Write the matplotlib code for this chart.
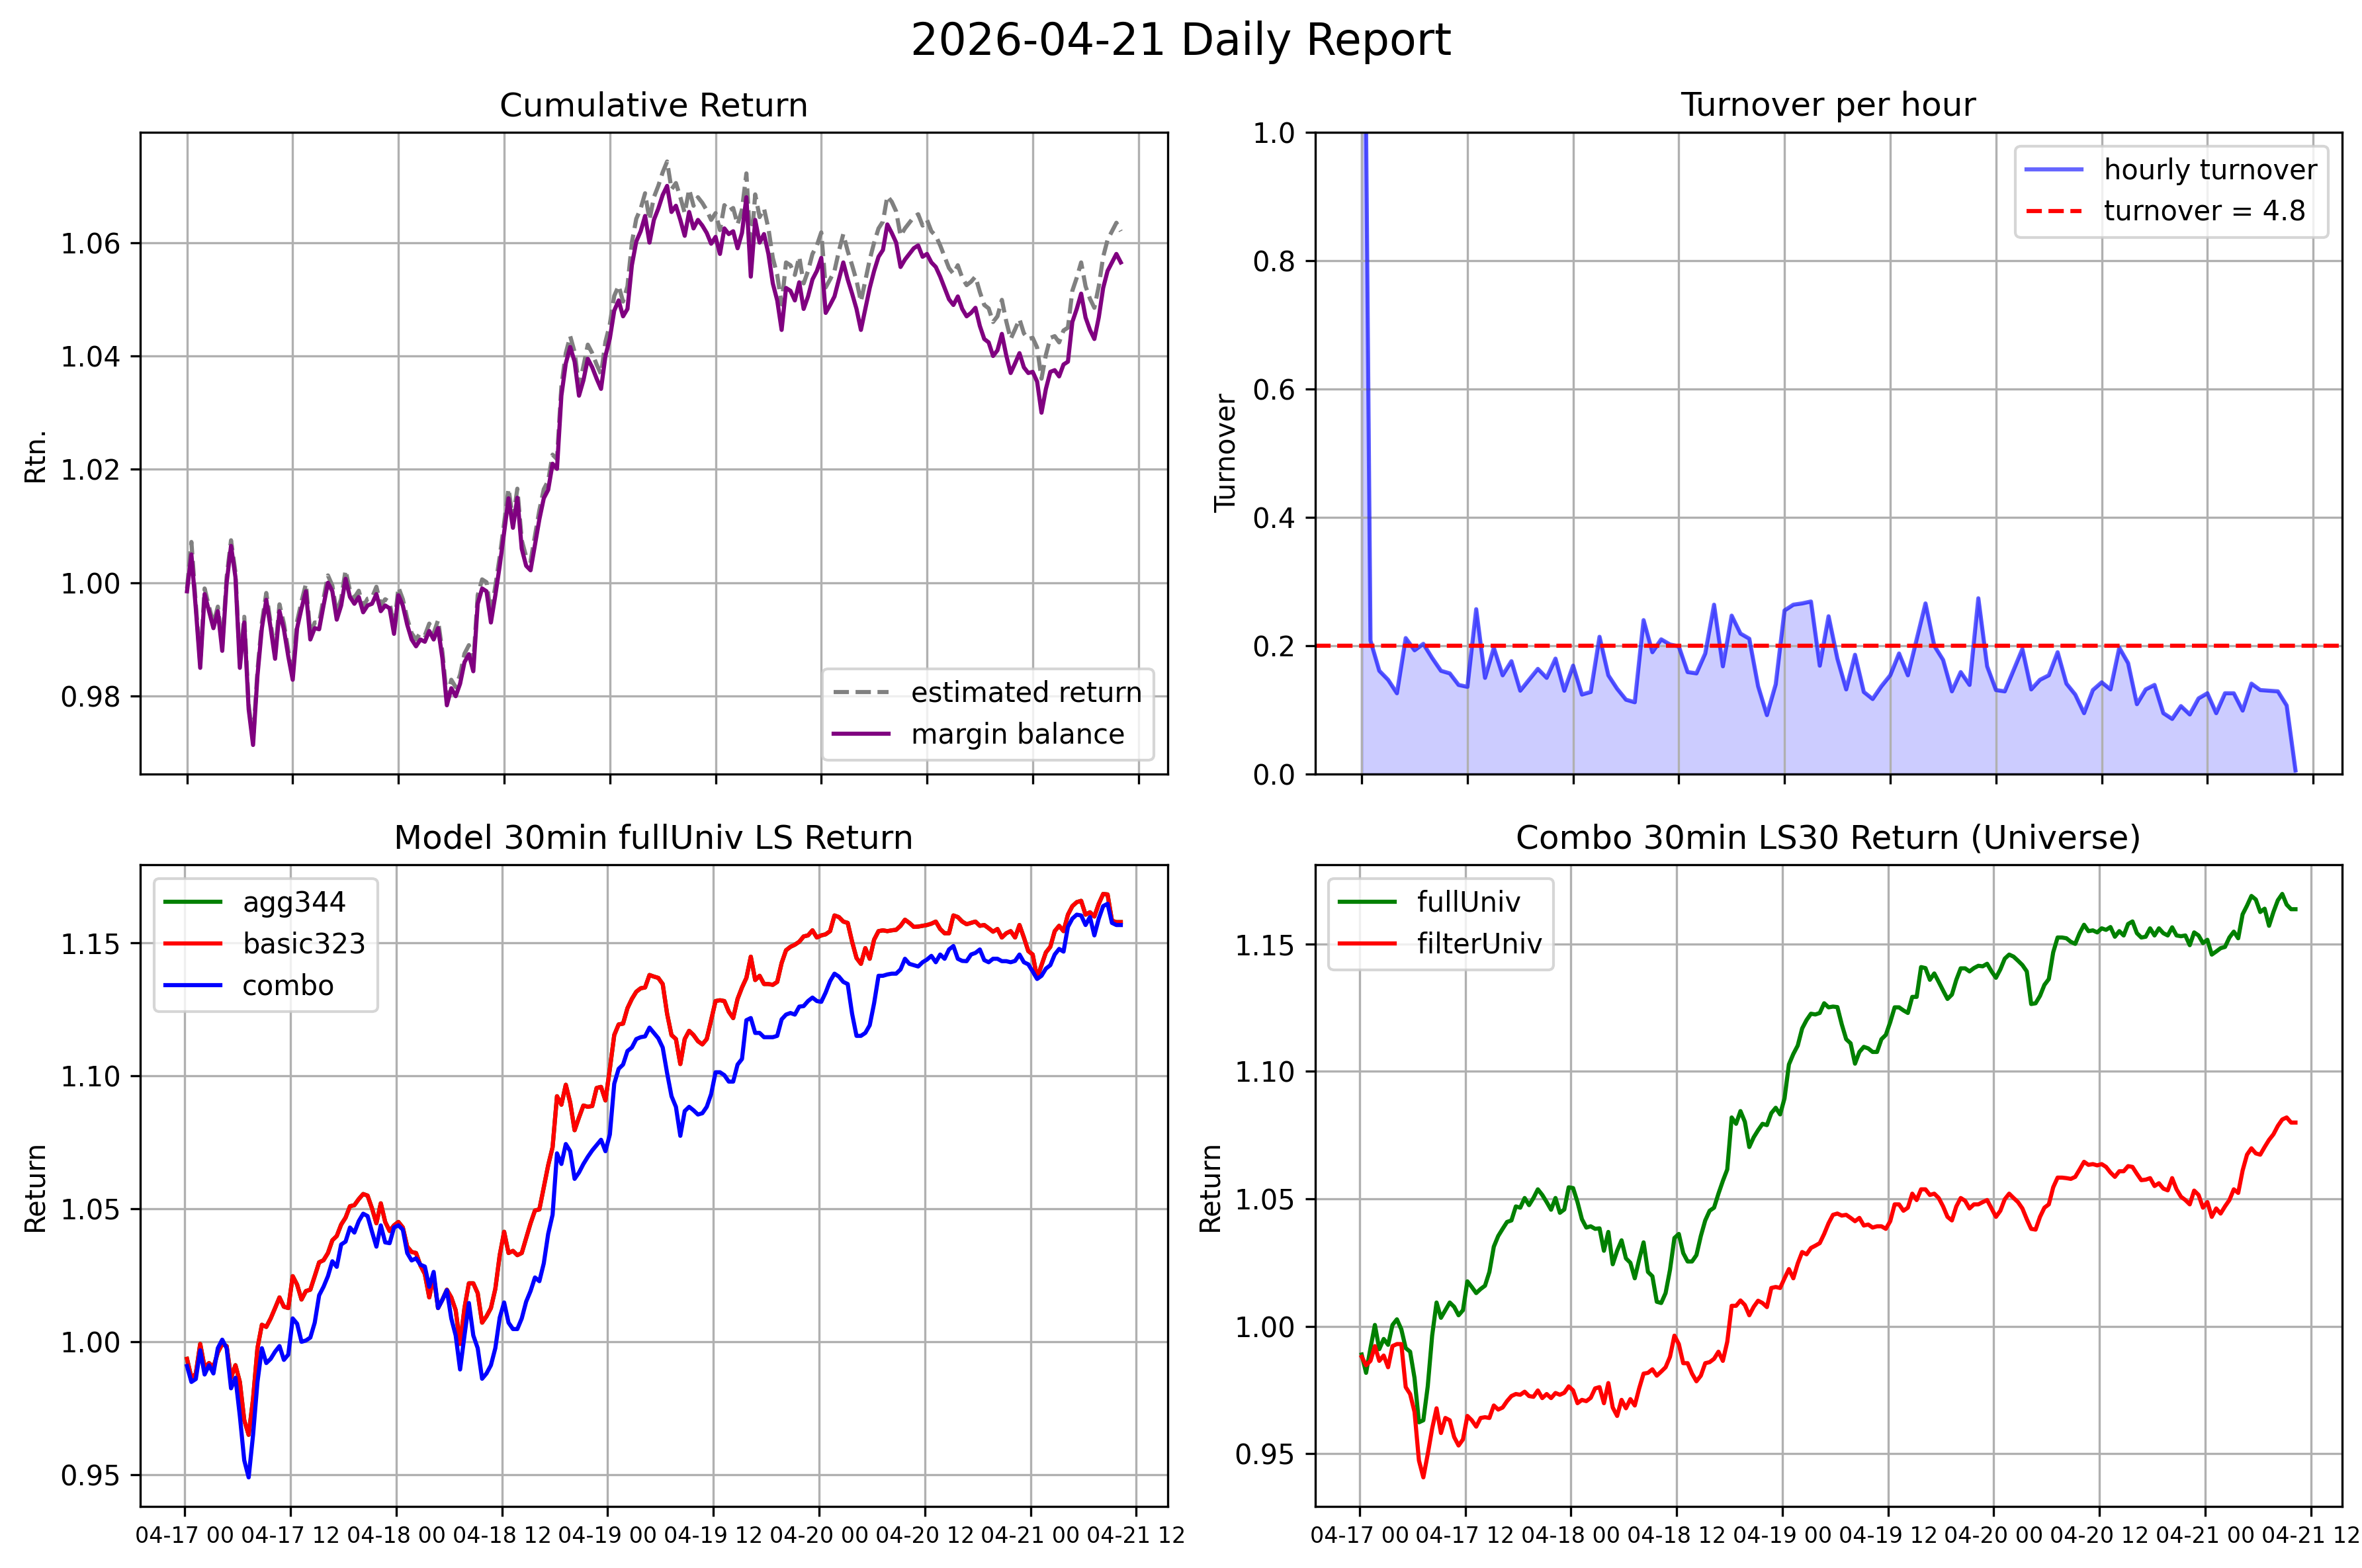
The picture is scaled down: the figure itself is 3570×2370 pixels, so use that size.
import pandas as pd
import matplotlib
matplotlib.use("Agg")
import matplotlib.pyplot as plt
import matplotlib.dates as mdates

report_date = "2026-04-21"

# cumulative return, 30 min samples from 04-17 00:00
margin_balance = [
    0.9985, 1.0050, 0.9955, 0.9850, 0.9980, 0.9950, 0.9920, 0.9950, 0.9880, 1.0000,
    1.0065, 1.0010, 0.9850, 0.9930, 0.9777, 0.9714, 0.9836, 0.9920, 0.9970, 0.9920,
    0.9866, 0.9950, 0.9918, 0.9870, 0.9829, 0.9920, 0.9955, 0.9985, 0.9900, 0.9920,
    0.9918, 0.9960, 1.0000, 0.9985, 0.9935, 0.9960, 1.0007, 0.9975, 0.9963, 0.9975,
    0.9948, 0.9960, 0.9963, 0.9980, 0.9950, 0.9960, 0.9955, 0.9910, 0.9978, 0.9960,
    0.9926, 0.9900, 0.9888, 0.9900, 0.9896, 0.9915, 0.9900, 0.9920, 0.9866, 0.9784,
    0.9814, 0.9800, 0.9822, 0.9860, 0.9874, 0.9844, 0.9963, 0.9990, 0.9985, 0.9930,
    0.9978, 1.0030, 1.0089, 1.0149, 1.0097, 1.0150, 1.0060, 1.0030, 1.0022, 1.0067,
    1.0112, 1.0149, 1.0164, 1.0210, 1.0201, 1.0330, 1.0387, 1.0416, 1.0390, 1.0330,
    1.0357, 1.0395, 1.0380, 1.0360, 1.0342, 1.0400, 1.0431, 1.0480, 1.0498, 1.0470,
    1.0483, 1.0560, 1.0602, 1.0620, 1.0647, 1.0600, 1.0640, 1.0660, 1.0684, 1.0700,
    1.0654, 1.0665, 1.0640, 1.0612, 1.0654, 1.0625, 1.0640, 1.0630, 1.0617, 1.0598,
    1.0610, 1.0580, 1.0625, 1.0615, 1.0620, 1.0590, 1.0617, 1.0680, 1.0540, 1.0640,
    1.0600, 1.0615, 1.0580, 1.0528, 1.0498, 1.0446, 1.0520, 1.0515, 1.0498, 1.0530,
    1.0483, 1.0505, 1.0535, 1.0550, 1.0573, 1.0476, 1.0490, 1.0505, 1.0535, 1.0565,
    1.0535, 1.0510, 1.0483, 1.0446, 1.0483, 1.0520, 1.0550, 1.0575, 1.0587, 1.0632,
    1.0617, 1.0600, 1.0557, 1.0570, 1.0580, 1.0590, 1.0595, 1.0575, 1.0580, 1.0565,
    1.0557, 1.0540, 1.0520, 1.0500, 1.0490, 1.0505, 1.0483, 1.0470, 1.0476, 1.0485,
    1.0453, 1.0430, 1.0424, 1.0400, 1.0410, 1.0439, 1.0401, 1.0370, 1.0387, 1.0405,
    1.0380, 1.0370, 1.0372, 1.0355, 1.0300, 1.0342, 1.0372, 1.0375, 1.0364, 1.0385,
    1.0390, 1.0460, 1.0483, 1.0510, 1.0468, 1.0446, 1.0430, 1.0468, 1.0520, 1.0550,
    1.0565, 1.0580, 1.0565,
]
estimated_return = [
    0.9990, 1.0072, 0.9962, 0.9858, 0.9990, 0.9958, 0.9928, 0.9958, 0.9888, 1.0010,
    1.0075, 1.0018, 0.9858, 0.9940, 0.9785, 0.9722, 0.9845, 0.9930, 0.9982, 0.9928,
    0.9876, 0.9962, 0.9928, 0.9880, 0.9840, 0.9932, 0.9967, 0.9998, 0.9910, 0.9930,
    0.9930, 0.9972, 1.0013, 0.9995, 0.9946, 0.9972, 1.0022, 0.9986, 0.9974, 0.9986,
    0.9958, 0.9972, 0.9974, 0.9993, 0.9961, 0.9971, 0.9966, 0.9920, 0.9992, 0.9971,
    0.9937, 0.9911, 0.9900, 0.9912, 0.9907, 0.9928, 0.9911, 0.9934, 0.9877, 0.9796,
    0.9829, 0.9816, 0.9838, 0.9875, 0.9890, 0.9858, 0.9978, 1.0006, 1.0001, 0.9945,
    0.9994, 1.0046, 1.0105, 1.0166, 1.0112, 1.0166, 1.0075, 1.0046, 1.0038, 1.0083,
    1.0128, 1.0165, 1.0180, 1.0226, 1.0218, 1.0347, 1.0405, 1.0435, 1.0407, 1.0347,
    1.0382, 1.0420, 1.0405, 1.0385, 1.0368, 1.0425, 1.0456, 1.0506, 1.0524, 1.0496,
    1.0523, 1.0600, 1.0642, 1.0660, 1.0687, 1.0640, 1.0680, 1.0700, 1.0724, 1.0743,
    1.0694, 1.0705, 1.0680, 1.0652, 1.0694, 1.0665, 1.0680, 1.0670, 1.0657, 1.0640,
    1.0652, 1.0622, 1.0666, 1.0656, 1.0661, 1.0632, 1.0658, 1.0722, 1.0585, 1.0685,
    1.0645, 1.0660, 1.0625, 1.0573, 1.0543, 1.0491, 1.0565, 1.0560, 1.0543, 1.0575,
    1.0528, 1.0550, 1.0580, 1.0595, 1.0618, 1.0521, 1.0535, 1.0550, 1.0585, 1.0615,
    1.0585, 1.0560, 1.0533, 1.0496, 1.0533, 1.0570, 1.0600, 1.0625, 1.0637, 1.0682,
    1.0672, 1.0655, 1.0612, 1.0625, 1.0635, 1.0645, 1.0650, 1.0630, 1.0640, 1.0620,
    1.0612, 1.0595, 1.0575, 1.0555, 1.0545, 1.0560, 1.0538, 1.0525, 1.0531, 1.0540,
    1.0513, 1.0490, 1.0484, 1.0460, 1.0470, 1.0499, 1.0461, 1.0430, 1.0447, 1.0465,
    1.0440, 1.0430, 1.0432, 1.0415, 1.0360, 1.0402, 1.0432, 1.0435, 1.0424, 1.0445,
    1.0450, 1.0515, 1.0538, 1.0565, 1.0523, 1.0501, 1.0485, 1.0523, 1.0575, 1.0605,
    1.0620, 1.0635, 1.0620,
]

# hourly turnover from 04-17 00:00
hourly_turnover = [
    1.80, 0.208, 0.161, 0.147, 0.126, 0.212, 0.193, 0.203, 0.181, 0.161,
    0.157, 0.139, 0.136, 0.257, 0.150, 0.197, 0.154, 0.176, 0.130, 0.147,
    0.164, 0.150, 0.180, 0.130, 0.169, 0.124, 0.128, 0.214, 0.154, 0.133,
    0.116, 0.112, 0.240, 0.190, 0.210, 0.202, 0.199, 0.159, 0.157, 0.188,
    0.264, 0.168, 0.247, 0.219, 0.211, 0.137, 0.092, 0.140, 0.255, 0.264,
    0.266, 0.269, 0.169, 0.246, 0.180, 0.132, 0.186, 0.128, 0.117, 0.137,
    0.154, 0.188, 0.154, 0.210, 0.266, 0.200, 0.178, 0.129, 0.159, 0.139,
    0.274, 0.168, 0.131, 0.129, 0.162, 0.195, 0.132, 0.147, 0.154, 0.190,
    0.141, 0.124, 0.095, 0.131, 0.143, 0.132, 0.197, 0.173, 0.109, 0.132,
    0.139, 0.095, 0.086, 0.106, 0.093, 0.118, 0.126, 0.095, 0.126, 0.126,
    0.099, 0.141, 0.131, 0.130, 0.129, 0.107, 0.006,
]
daily_turnover = 4.8

# model LS returns, 30 min
basic323 = [
    0.9936, 0.9865, 0.9880, 0.9992, 0.9904, 0.9920, 0.9904, 0.9960, 0.9992, 0.9984,
    0.9865, 0.9912, 0.9849, 0.9705, 0.9650, 0.9785, 0.9976, 1.0064, 1.0056, 1.0088,
    1.0127, 1.0167, 1.0132, 1.0127, 1.0247, 1.0215, 1.0159, 1.0191, 1.0196, 1.0247,
    1.0299, 1.0307, 1.0334, 1.0382, 1.0398, 1.0441, 1.0467, 1.0510, 1.0514, 1.0537,
    1.0556, 1.0550, 1.0502, 1.0446, 1.0521, 1.0451, 1.0417, 1.0438, 1.0451, 1.0430,
    1.0358, 1.0338, 1.0334, 1.0287, 1.0255, 1.0167, 1.0247, 1.0127, 1.0159, 1.0196,
    1.0167, 1.0119, 0.9992, 1.0127, 1.0220, 1.0220, 1.0183, 1.0072, 1.0096, 1.0127,
    1.0199, 1.0326, 1.0414, 1.0334, 1.0342, 1.0326, 1.0334, 1.0390, 1.0446, 1.0494,
    1.0498, 1.0581, 1.0664, 1.0732, 1.0924, 1.0892, 1.0967, 1.0900, 1.0796, 1.0844,
    1.0889, 1.0884, 1.0887, 1.0955, 1.0959, 1.0908, 1.1027, 1.1154, 1.1194, 1.1197,
    1.1255, 1.1290, 1.1317, 1.1330, 1.1333, 1.1380, 1.1374, 1.1369, 1.1346, 1.1234,
    1.1154, 1.1139, 1.1045, 1.1139, 1.1170, 1.1154, 1.1131, 1.1119, 1.1139, 1.1210,
    1.1282, 1.1285, 1.1282, 1.1242, 1.1218, 1.1290, 1.1333, 1.1369, 1.1449, 1.1361,
    1.1377, 1.1346, 1.1346, 1.1343, 1.1354, 1.1425, 1.1473, 1.1486, 1.1494, 1.1505,
    1.1525, 1.1529, 1.1548, 1.1521, 1.1529, 1.1533, 1.1545, 1.1604, 1.1598, 1.1581,
    1.1576, 1.1505, 1.1444, 1.1422, 1.1481, 1.1441, 1.1513, 1.1545, 1.1548, 1.1545,
    1.1548, 1.1550, 1.1565, 1.1588, 1.1576, 1.1561, 1.1562, 1.1565, 1.1568, 1.1573,
    1.1581, 1.1553, 1.1537, 1.1537, 1.1604, 1.1598, 1.1581, 1.1571, 1.1576, 1.1581,
    1.1565, 1.1568, 1.1556, 1.1543, 1.1553, 1.1521, 1.1537, 1.1545, 1.1521, 1.1568,
    1.1521, 1.1470, 1.1457, 1.1369, 1.1417, 1.1465, 1.1486, 1.1545, 1.1565, 1.1545,
    1.1607, 1.1639, 1.1654, 1.1659, 1.1607, 1.1616, 1.1600, 1.1648, 1.1685, 1.1683,
    1.1584, 1.1579, 1.1579,
]
# agg344 sits exactly under basic323 in the report
agg344 = list(basic323)
combo = [
    0.9909, 0.9849, 0.9860, 0.9968, 0.9877, 0.9912, 0.9881, 0.9976, 1.0008, 0.9976,
    0.9825, 0.9865, 0.9721, 0.9554, 0.9490, 0.9650, 0.9849, 0.9976, 0.9920, 0.9936,
    0.9963, 0.9984, 0.9932, 0.9952, 1.0088, 1.0068, 1.0000, 1.0005, 1.0016, 1.0072,
    1.0175, 1.0207, 1.0247, 1.0303, 1.0282, 1.0366, 1.0377, 1.0430, 1.0411, 1.0454,
    1.0482, 1.0473, 1.0414, 1.0358, 1.0438, 1.0374, 1.0371, 1.0430, 1.0438, 1.0422,
    1.0334, 1.0306, 1.0314, 1.0290, 1.0283, 1.0207, 1.0263, 1.0127, 1.0159, 1.0194,
    1.0088, 1.0024, 0.9896, 1.0024, 1.0146, 1.0024, 0.9976, 0.9861, 0.9881, 0.9912,
    0.9976, 1.0091, 1.0148, 1.0072, 1.0048, 1.0048, 1.0088, 1.0151, 1.0191, 1.0242,
    1.0228, 1.0295, 1.0406, 1.0478, 1.0709, 1.0669, 1.0744, 1.0717, 1.0613, 1.0637,
    1.0669, 1.0696, 1.0720, 1.0740, 1.0760, 1.0717, 1.0780, 1.0971, 1.1027, 1.1043,
    1.1094, 1.1107, 1.1139, 1.1146, 1.1149, 1.1182, 1.1162, 1.1142, 1.1107, 1.1011,
    1.0924, 1.0884, 1.0775, 1.0868, 1.0884, 1.0871, 1.0855, 1.0860, 1.0884, 1.0932,
    1.1014, 1.1014, 1.1003, 1.0979, 1.0979, 1.1043, 1.1064, 1.1210, 1.1218, 1.1162,
    1.1162, 1.1146, 1.1146, 1.1146, 1.1151, 1.1213, 1.1231, 1.1237, 1.1231, 1.1261,
    1.1263, 1.1282, 1.1295, 1.1282, 1.1279, 1.1314, 1.1357, 1.1385, 1.1374, 1.1354,
    1.1346, 1.1234, 1.1151, 1.1151, 1.1162, 1.1191, 1.1274, 1.1377, 1.1377, 1.1382,
    1.1385, 1.1385, 1.1401, 1.1441, 1.1422, 1.1417, 1.1412, 1.1428, 1.1438, 1.1452,
    1.1428, 1.1457, 1.1441, 1.1476, 1.1489, 1.1441, 1.1433, 1.1432, 1.1457, 1.1463,
    1.1476, 1.1436, 1.1428, 1.1441, 1.1441, 1.1432, 1.1432, 1.1428, 1.1433, 1.1457,
    1.1428, 1.1420, 1.1393, 1.1365, 1.1377, 1.1404, 1.1417, 1.1457, 1.1478, 1.1468,
    1.1561, 1.1592, 1.1607, 1.1604, 1.1568, 1.1598, 1.1529, 1.1592, 1.1639, 1.1648,
    1.1576, 1.1568, 1.1568,
]

# combo LS30 by universe, 30 min
full_univ = [
    0.9889, 0.9817, 0.9914, 1.0005, 0.9910, 0.9950, 0.9927, 1.0005, 1.0027, 0.9988,
    0.9914, 0.9900, 0.9797, 0.9623, 0.9631, 0.9764, 0.9963, 1.0093, 1.0033, 1.0063,
    1.0093, 1.0076, 1.0043, 1.0063, 1.0176, 1.0154, 1.0130, 1.0146, 1.0159, 1.0213,
    1.0312, 1.0354, 1.0382, 1.0409, 1.0415, 1.0470, 1.0465, 1.0503, 1.0475, 1.0503,
    1.0537, 1.0515, 1.0487, 1.0457, 1.0503, 1.0445, 1.0458, 1.0545, 1.0542, 1.0487,
    1.0420, 1.0387, 1.0392, 1.0382, 1.0384, 1.0296, 1.0370, 1.0243, 1.0296, 1.0337,
    1.0266, 1.0249, 1.0188, 1.0262, 1.0329, 1.0213, 1.0196, 1.0096, 1.0091, 1.0130,
    1.0221, 1.0346, 1.0362, 1.0287, 1.0254, 1.0254, 1.0279, 1.0354, 1.0415, 1.0453,
    1.0465, 1.0520, 1.0570, 1.0615, 1.0819, 1.0794, 1.0844, 1.0802, 1.0703, 1.0741,
    1.0769, 1.0794, 1.0789, 1.0836, 1.0857, 1.0831, 1.0894, 1.1027, 1.1068, 1.1101,
    1.1168, 1.1201, 1.1226, 1.1223, 1.1229, 1.1267, 1.1251, 1.1254, 1.1252, 1.1184,
    1.1126, 1.1110, 1.1030, 1.1076, 1.1096, 1.1090, 1.1076, 1.1076, 1.1126, 1.1143,
    1.1193, 1.1251, 1.1251, 1.1239, 1.1229, 1.1292, 1.1292, 1.1409, 1.1405, 1.1359,
    1.1384, 1.1351, 1.1317, 1.1284, 1.1301, 1.1359, 1.1404, 1.1404, 1.1392, 1.1405,
    1.1414, 1.1412, 1.1422, 1.1392, 1.1367, 1.1400, 1.1442, 1.1458, 1.1450, 1.1434,
    1.1417, 1.1392, 1.1264, 1.1267, 1.1296, 1.1339, 1.1362, 1.1467, 1.1525, 1.1525,
    1.1522, 1.1508, 1.1500, 1.1542, 1.1575, 1.1550, 1.1553, 1.1545, 1.1561, 1.1555,
    1.1566, 1.1528, 1.1550, 1.1533, 1.1578, 1.1588, 1.1542, 1.1525, 1.1528, 1.1561,
    1.1533, 1.1561, 1.1542, 1.1533, 1.1565, 1.1533, 1.1530, 1.1533, 1.1495, 1.1545,
    1.1533, 1.1503, 1.1516, 1.1458, 1.1470, 1.1483, 1.1488, 1.1525, 1.1548, 1.1522,
    1.1616, 1.1650, 1.1688, 1.1674, 1.1625, 1.1638, 1.1571, 1.1625, 1.1671, 1.1696,
    1.1654, 1.1636, 1.1636,
]
filter_univ = [
    0.9880, 0.9847, 0.9864, 0.9922, 0.9864, 0.9885, 0.9839, 0.9922, 0.9930, 0.9930,
    0.9761, 0.9734, 0.9664, 0.9473, 0.9407, 0.9498, 0.9598, 0.9678, 0.9581, 0.9640,
    0.9631, 0.9565, 0.9532, 0.9556, 0.9648, 0.9631, 0.9606, 0.9640, 0.9643, 0.9640,
    0.9689, 0.9673, 0.9681, 0.9706, 0.9726, 0.9734, 0.9731, 0.9743, 0.9726, 0.9723,
    0.9748, 0.9718, 0.9734, 0.9718, 0.9738, 0.9731, 0.9739, 0.9764, 0.9748, 0.9698,
    0.9711, 0.9706, 0.9719, 0.9756, 0.9761, 0.9698, 0.9777, 0.9681, 0.9648, 0.9711,
    0.9678, 0.9714, 0.9689, 0.9756, 0.9814, 0.9817, 0.9831, 0.9806, 0.9822, 0.9839,
    0.9880, 0.9963, 0.9930, 0.9855, 0.9855, 0.9814, 0.9784, 0.9806, 0.9855, 0.9859,
    0.9872, 0.9900, 0.9864, 0.9939, 1.0080, 1.0080, 1.0101, 1.0083, 1.0043, 1.0076,
    1.0100, 1.0091, 1.0075, 1.0150, 1.0154, 1.0150, 1.0188, 1.0224, 1.0188, 1.0246,
    1.0291, 1.0282, 1.0307, 1.0316, 1.0326, 1.0362, 1.0404, 1.0437, 1.0442, 1.0434,
    1.0437, 1.0425, 1.0412, 1.0425, 1.0395, 1.0399, 1.0387, 1.0392, 1.0392, 1.0382,
    1.0412, 1.0478, 1.0478, 1.0453, 1.0465, 1.0520, 1.0495, 1.0537, 1.0537, 1.0515,
    1.0520, 1.0503, 1.0470, 1.0429, 1.0415, 1.0470, 1.0503, 1.0492, 1.0462, 1.0478,
    1.0478, 1.0487, 1.0495, 1.0462, 1.0429, 1.0453, 1.0498, 1.0520, 1.0503, 1.0487,
    1.0462, 1.0420, 1.0382, 1.0379, 1.0429, 1.0465, 1.0478, 1.0545, 1.0583, 1.0583,
    1.0581, 1.0578, 1.0586, 1.0615, 1.0645, 1.0633, 1.0636, 1.0631, 1.0636, 1.0625,
    1.0603, 1.0586, 1.0608, 1.0608, 1.0628, 1.0625, 1.0598, 1.0573, 1.0575, 1.0581,
    1.0550, 1.0561, 1.0540, 1.0533, 1.0581, 1.0537, 1.0508, 1.0495, 1.0478, 1.0532,
    1.0515, 1.0465, 1.0487, 1.0429, 1.0462, 1.0442, 1.0470, 1.0495, 1.0537, 1.0523,
    1.0611, 1.0673, 1.0698, 1.0678, 1.0673, 1.0703, 1.0731, 1.0753, 1.0786, 1.0811,
    1.0819, 1.0799, 1.0799,
]

t_cum = pd.date_range("2026-04-17 00:00", periods=len(margin_balance), freq="30min")
t_turn = pd.date_range("2026-04-17 00:00", periods=len(hourly_turnover), freq="h")
t_ls = pd.date_range("2026-04-17 00:15", periods=len(combo), freq="30min")

fig, axes = plt.subplots(2, 2, figsize=(11.9, 7.9), dpi=300)
fig.subplots_adjust(left=0.0594, right=0.9916, top=0.9156, bottom=0.0392,
                    wspace=0.1436, hspace=0.1412)
fig.suptitle(f"{report_date} Daily Report", fontsize=16, y=0.987)

ax = axes[0, 0]
ax.plot(t_cum, estimated_return, "--", color="gray", label="estimated return")
ax.plot(t_cum, margin_balance, color="purple", label="margin balance")
ax.set_title("Cumulative Return")
ax.set_ylabel("Rtn.")
ax.legend(loc="lower right")

ax = axes[0, 1]
ax.plot(t_turn, hourly_turnover, color="blue", alpha=0.6, label="hourly turnover")
ax.fill_between(t_turn, hourly_turnover, color="blue", alpha=0.2)
ax.axhline(daily_turnover / 24, color="red", linestyle="--",
           label=f"turnover = {daily_turnover}")
ax.set_ylim(0, 1)
ax.set_title("Turnover per hour")
ax.set_ylabel("Turnover")
ax.legend(loc="upper right")

ax = axes[1, 0]
ax.plot(t_ls, agg344, color="green", label="agg344")
ax.plot(t_ls, basic323, color="red", label="basic323")
ax.plot(t_ls, combo, color="blue", label="combo")
ax.set_title("Model 30min fullUniv LS Return")
ax.set_ylabel("Return")
ax.legend(loc="upper left")

ax = axes[1, 1]
ax.plot(t_ls, full_univ, color="green", label="fullUniv")
ax.plot(t_ls, filter_univ, color="red", label="filterUniv")
ax.set_title("Combo 30min LS30 Return (Universe)")
ax.set_ylabel("Return")
ax.legend(loc="upper left")

for i, ax in enumerate(axes.flat):
    ax.grid(True)
    ax.xaxis.set_major_locator(mdates.HourLocator(byhour=[0, 12]))
    ax.xaxis.set_major_formatter(mdates.DateFormatter("%m-%d %H"))
    ax.tick_params(axis="x", labelsize=8)
    if i < 2:
        ax.tick_params(axis="x", labelbottom=False)

fig.savefig("out.png", dpi=300)
